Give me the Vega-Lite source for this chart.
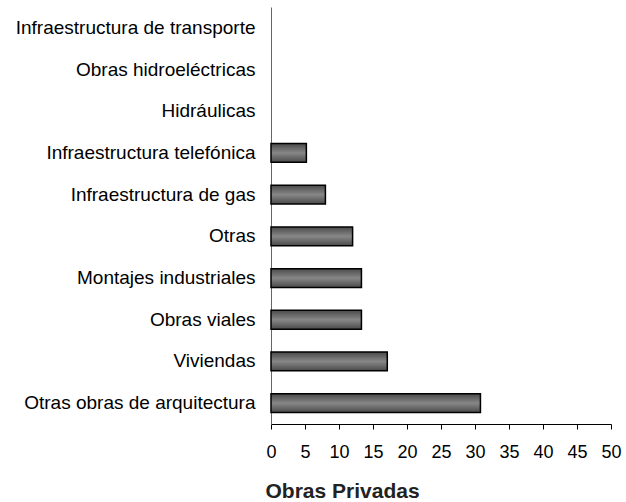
{
  "$schema": "https://vega.github.io/schema/vega-lite/v6.json",
  "autosize": "none",
  "width": 340,
  "height": 417,
  "padding": {"left": 271, "top": 7, "right": 15, "bottom": 78},
  "background": "white",
  "data": {
    "values": [
      {"cat": "Infraestructura de transporte", "v": 0},
      {"cat": "Obras hidroeléctricas", "v": 0},
      {"cat": "Hidráulicas", "v": 0},
      {"cat": "Infraestructura telefónica", "v": 5.2},
      {"cat": "Infraestructura de gas", "v": 8.0},
      {"cat": "Otras", "v": 12.0},
      {"cat": "Montajes industriales", "v": 13.3},
      {"cat": "Obras viales", "v": 13.3},
      {"cat": "Viviendas", "v": 17.1},
      {"cat": "Otras obras de arquitectura", "v": 30.8}
    ]
  },
  "mark": {
    "type": "bar",
    "stroke": "black",
    "strokeWidth": 1.5,
    "color": {
      "gradient": "linear",
      "x1": 0, "y1": 0, "x2": 0, "y2": 1,
      "stops": [
        {"offset": 0, "color": "#4a4a4a"},
        {"offset": 0.5, "color": "#878787"},
        {"offset": 1, "color": "#4a4a4a"}
      ]
    }
  },
  "encoding": {
    "strokeOpacity": {"condition": {"test": "datum.v === 0", "value": 0}, "value": 1},
    "y": {
      "field": "cat",
      "type": "nominal",
      "sort": null,
      "scale": {"paddingInner": 0.55, "paddingOuter": 0.275},
      "axis": {
        "title": null,
        "ticks": false,
        "labelPadding": 16,
        "labelFont": "Liberation Sans",
        "labelFontSize": 19,
        "labelColor": "black",
        "domainColor": "#666",
        "labelLimit": 400
      }
    },
    "x": {
      "field": "v",
      "type": "quantitative",
      "scale": {"domain": [0, 50], "nice": false},
      "axis": {
        "title": "Obras Privadas",
        "values": [0, 5, 10, 15, 20, 25, 30, 35, 40, 45, 50],
        "grid": false,
        "labelFlush": false,
        "labelOverlap": false,
        "tickSize": 5,
        "tickColor": "black",
        "domainColor": "black",
        "labelPadding": 14,
        "labelFont": "Liberation Sans",
        "labelFontSize": 18,
        "labelColor": "black",
        "titleFont": "Liberation Sans",
        "titleFontSize": 21,
        "titleFontWeight": "bold",
        "titleColor": "#222",
        "titleAlign": "left",
        "titleBaseline": "middle",
        "titleX": -6,
        "titleY": 67
      }
    }
  },
  "config": {"view": {"stroke": null}}
}
